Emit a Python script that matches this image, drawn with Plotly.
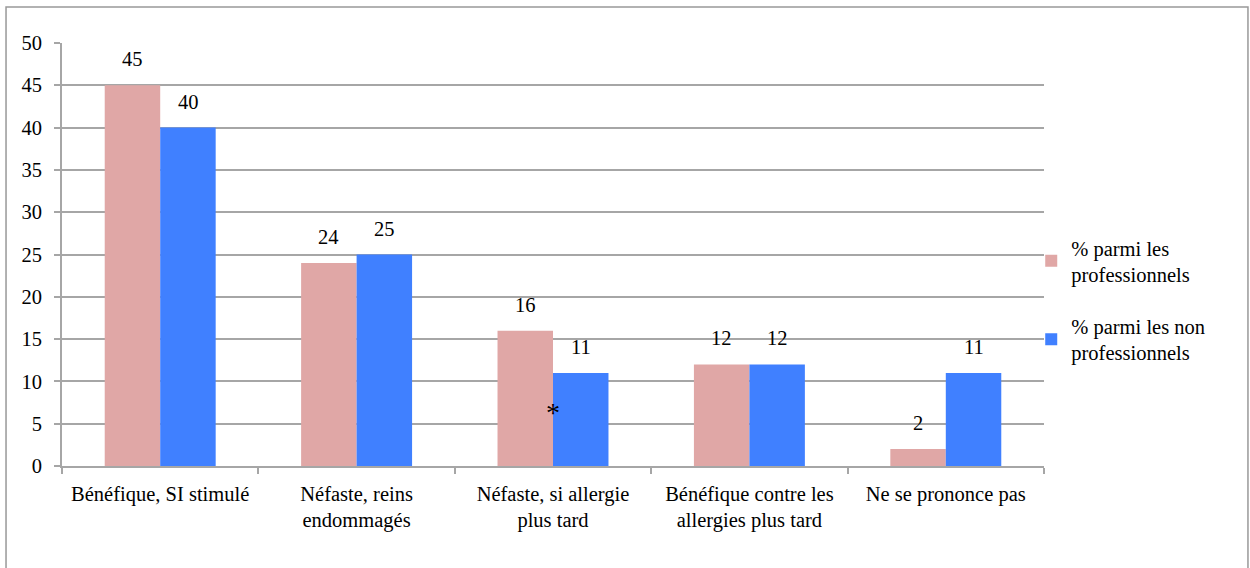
import plotly.graph_objects as go

categories = ["Bénéfique, SI stimulé", "Néfaste, reins<br>endommagés", "Néfaste, si allergie<br>plus tard",
              "Bénéfique contre les<br>allergies plus tard", "Ne se prononce pas"]
pros = [45, 24, 16, 12, 2]
non_pros = [40, 25, 11, 12, 11]
series_names = ["% parmi les<br>professionnels", "% parmi les non<br>professionnels"]
y_ticks = [0, 5, 10, 15, 20, 25, 30, 35, 40, 45, 50]

FONT = "'Liberation Serif', 'Times New Roman', Tinos, 'DejaVu Serif'"
GRID = "#a6a6a6"
FS = 20.5
BAR_HALF = 28  # px offset of each bar centre from category centre

fig = go.Figure()
fig.add_trace(go.Bar(x=categories, y=pros, name=series_names[0], marker_color="#e0a7a6",
                     marker_line_width=0, legendgroup="a"))
fig.add_trace(go.Bar(x=categories, y=non_pros, name=series_names[1], marker_color="#4080ff",
                     marker_line_width=0, legendgroup="b"))

annotations = []
for cat, v in zip(categories, pros):
    annotations.append(dict(x=cat, y=v, xref="x", yref="y", text=str(v), showarrow=False,
                            xshift=-BAR_HALF, yshift=26, font=dict(family=FONT, size=FS, color="#000")))
for cat, v in zip(categories, non_pros):
    annotations.append(dict(x=cat, y=v, xref="x", yref="y", text=str(v), showarrow=False,
                            xshift=BAR_HALF, yshift=26, font=dict(family=FONT, size=FS, color="#000")))
annotations.append(dict(x=categories[2], y=6.3, xref="x", yref="y", text="*", showarrow=False,
                        font=dict(family=FONT, size=28, color="#000")))

fig.update_layout(
    width=1250, height=568,
    margin=dict(l=62, r=206, t=43, b=102),
    paper_bgcolor="white", plot_bgcolor="white",
    font=dict(family=FONT, size=FS, color="#000"),
    barmode="group", bargap=0.435, bargroupgap=0,
    showlegend=True,
    legend=dict(x=0.987, y=0.392, xanchor="left", yanchor="middle",
                font=dict(family=FONT, size=FS), tracegroupgap=22, itemwidth=30,
                bgcolor="rgba(0,0,0,0)"),
    xaxis=dict(showgrid=False, showline=True, linecolor=GRID, linewidth=2,
               ticks="outside", tickson="boundaries", ticklen=6, tickcolor=GRID,
               tickwidth=2, tickfont=dict(family=FONT, size=FS), ticklabelstandoff=8),
    yaxis=dict(range=[0, 50], tickvals=y_ticks, showgrid=True, gridcolor=GRID, gridwidth=1.5,
               showline=True, linecolor=GRID, linewidth=2, ticks="outside", ticklen=6,
               tickcolor=GRID, tickwidth=2, zeroline=False, tickfont=dict(family=FONT, size=FS),
               ticklabelstandoff=8),
    shapes=[dict(type="rect", xref="paper", yref="paper", x0=-0.057, x1=1.2077,
                 y0=-0.26, y1=1.085, line=dict(color="#999999", width=1.5), layer="below")],
    annotations=annotations,
)

fig.write_html("out.html", config={"displayModeBar": False},
               post_script="document.body.style.margin='0';document.body.style.overflow='hidden';")
